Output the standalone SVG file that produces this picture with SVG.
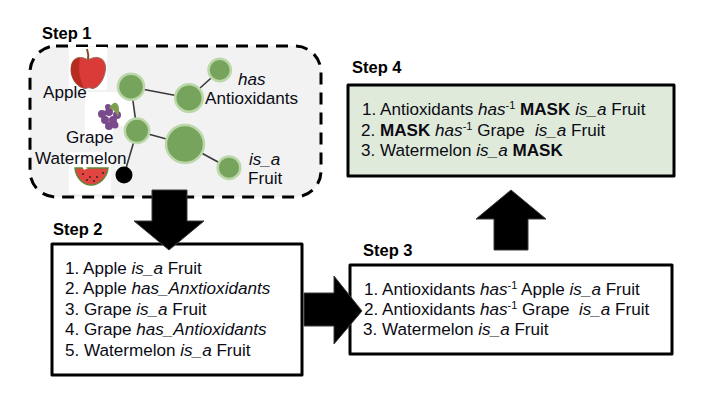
<svg xmlns="http://www.w3.org/2000/svg" width="704" height="410" viewBox="0 0 704 410">
<style>
text{font-family:"Liberation Sans",Arial,sans-serif;font-size:17.1px;fill:#0b0b14}
.h{font-weight:bold;font-size:16.5px;fill:#000}
.i{font-style:italic}
.b{font-weight:bold}
.s{font-size:11px}
.box{stroke:#000;stroke-width:3;stroke-linejoin:round}
.n{fill:#77a45c;stroke:#bcd7a9;stroke-width:2.500}
.e{stroke:#3a3a3a;stroke-width:1.6;fill:none}
.arrow{fill:#000;stroke:#3a3a3a;stroke-width:1}
</style>
<g id="step1">
<rect x="30" y="46" width="291" height="151" rx="26" fill="#f2f2f2" stroke="#000" stroke-width="3" stroke-dasharray="12 8"/>
<text class="h" x="42" y="39">Step 1</text>
</g>
<g id="images">
<rect x="69" y="47" width="38" height="43" fill="#fff"/>
<rect x="85" y="92" width="48" height="34" fill="#fff"/>
<rect x="85" y="126" width="28" height="14" fill="#fff"/>
<rect x="69" y="152" width="42" height="42" fill="#fff"/>
<path d="M88 60C80 55 71 57 71 70C71 80 79 89 86 88.500C88 87.500 90 87.500 92 88.500C98 89 105.500 78 105.500 68C105.500 57 96 55 88 60Z" fill="#da3a38" stroke="#9d6a5c"/>
<path d="M80 58C73 58 71 63 71 70C71 79 77 86 84 88C79 78 78 67 80 58Z" fill="#b82c20"/>
<path d="M88 60C89 55 88 52 87 49" stroke="#8a4a2a" stroke-width="2" fill="none"/>
<g fill="#7a4a8c"><circle cx="102" cy="114" r="4"/><circle cx="109" cy="112" r="4"/><circle cx="117" cy="115" r="4"/><circle cx="105" cy="120" r="4"/><circle cx="113" cy="120" r="4"/><circle cx="109" cy="126" r="4"/><circle cx="115" cy="125" r="3.500"/><circle cx="108" cy="107" r="3"/></g>
<path d="M109 108C112 103 115 102 116 103C119 104 120 110 118 117C116 112 113 109 109 108Z" fill="#7f9f50"/>
<path d="M75 168H108C107 178 99 185 91 185C83 185 76 178 75 168Z" fill="#e2453f" stroke="#5e8a3a" stroke-width="1.500"/>
<g fill="#222"><circle cx="83" cy="174" r=".9"/><circle cx="90" cy="177" r=".9"/><circle cx="97" cy="177" r=".9"/><circle cx="103" cy="173" r=".9"/><circle cx="87" cy="180" r=".9"/><circle cx="94" cy="181" r=".9"/></g>
<path d="M82 166L88 168L84 170Z" fill="#fff"/>
</g>
<g id="connectors">
<path class="e" d="M131 87L189 98M131 87L137 130M137 131L124 175M137 131L185 144M189 98L220 70M185 144L229 168"/>
</g>
<g id="nodes">
<circle id="n1" class="n" cx="131" cy="86.700" r="13"/>
<circle id="n2" class="n" cx="189" cy="98" r="13.800"/>
<circle id="n3" class="n" cx="219.700" cy="70" r="11.200"/>
<circle id="n4" class="n" cx="137" cy="130.700" r="12.200"/>
<circle id="n5" class="n" cx="185" cy="144" r="19"/>
<circle id="n6" class="n" cx="229" cy="167.700" r="11.300"/>
<circle id="n7" cx="124" cy="175" r="8.500" fill="#000"/>
</g>
<g id="labels">
<text x="43" y="98">Apple</text>
<text x="66" y="143">Grape</text>
<text x="35" y="164">Watermelon</text>
<text class="i" x="238" y="85">has</text>
<text x="205" y="104">Antioxidants</text>
<text class="i" x="249" y="165">is_a</text>
<text x="248" y="184">Fruit</text>
</g>
<g id="step2">
<rect class="box" x="52" y="244" width="250" height="131" fill="#fff"/>
<text class="h" x="53" y="235">Step 2</text>
<text x="65" y="274">1. Apple <tspan class="i">is_a</tspan> Fruit</text>
<text x="65" y="294">2. Apple <tspan class="i">has_Anxtioxidants</tspan></text>
<text x="65" y="315">3. Grape <tspan class="i">is_a</tspan> Fruit</text>
<text x="65" y="335">4. Grape <tspan class="i">has_Antioxidants</tspan></text>
<text x="65" y="356">5. Watermelon <tspan class="i">is_a</tspan> Fruit</text>
</g>
<g id="step3">
<rect class="box" x="350" y="265" width="322" height="89" fill="#fff"/>
<text class="h" x="363" y="256">Step 3</text>
<text x="364" y="295">1. Antioxidants <tspan class="i">has</tspan><tspan class="s" dy="-6">-1</tspan><tspan dy="6"> Apple </tspan><tspan class="i">is_a</tspan> Fruit</text>
<text x="364" y="315">2. Antioxidants <tspan class="i">has</tspan><tspan class="s" dy="-6">-1</tspan><tspan dy="6"> Grape  </tspan><tspan class="i" x="579">is_a</tspan> Fruit</text>
<text x="363" y="335">3. Watermelon <tspan class="i">is_a</tspan> Fruit</text>
</g>
<g id="step4">
<rect class="box" x="348" y="85" width="326" height="91" fill="#dfeada"/>
<text class="h" x="352" y="73">Step 4</text>
<text x="362" y="115">1. Antioxidants <tspan class="i">has</tspan><tspan class="s" dy="-6">-1</tspan><tspan dy="6"> </tspan><tspan class="b">MASK</tspan> <tspan class="i">is_a</tspan> Fruit</text>
<text x="361" y="136">2. <tspan class="b">MASK</tspan> <tspan class="i">has</tspan><tspan class="s" dy="-6">-1</tspan><tspan dy="6"> Grape  </tspan><tspan class="i" x="535">is_a</tspan> Fruit</text>
<text x="361" y="156">3. Watermelon <tspan class="i">is_a</tspan> <tspan class="b">MASK</tspan></text>
</g>
<g id="arrows">
<path class="arrow" d="M152 190H187V221H204L169 250L134 221H152Z"/>
<path class="arrow" d="M304 293H334V276L362 311L334 344V326H304Z"/>
<path class="arrow" d="M494 250V219H476L511 190L546 219H528V250Z"/>
</g>
</svg>
